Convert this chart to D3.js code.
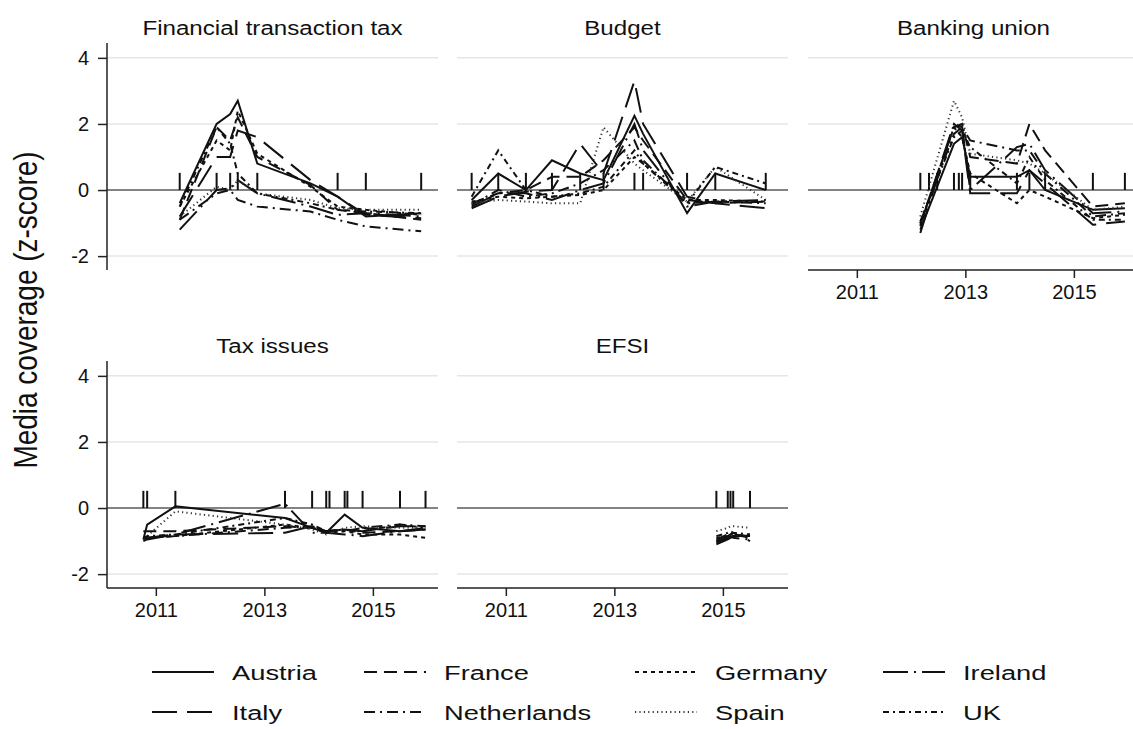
<!DOCTYPE html>
<html><head><meta charset="utf-8">
<script src="https://cdn.jsdelivr.net/npm/d3@7/dist/d3.min.js"></script>
<style>html,body{margin:0;padding:0;background:#fff}svg{display:block}</style>
</head><body><svg id="c" width="1133" height="729"></svg>
<script>
// ---------------- DATA ----------------
const countries = ["Austria","France","Germany","Ireland","Italy","Netherlands","Spain","UK"];
const panelTitles = ["Financial transaction tax","Budget","Banking union","Tax issues","EFSI"];
const yTicks = [-2, 0, 2, 4];
const xTicks = [2011, 2013, 2015];

// Financial transaction tax
const fttDates  = [2011.44, 2012.12, 2012.37, 2012.51, 2012.87, 2013.85, 2014.35, 2014.87, 2015.89];
const fttEvents = [2011.44, 2012.12, 2012.37, 2012.51, 2012.87, 2014.35, 2014.87, 2015.89];
const fttValues = [
  [-0.4, 2.0, 2.3, 2.7, 0.8, 0.2, -0.2, -0.8, -0.7],
  [-0.9, 1.9, 1.5, 2.2, 1.0, 0.15, -0.6, -0.7, -0.9],
  [-0.5, 1.5, 1.2, 2.4, 1.1, 0.1, -0.5, -0.6, -0.75],
  [-1.2, 0.0, 0.05, 0.3, -0.1, -0.5, -0.75, -0.7, -0.8],
  [-0.8, 1.0, 1.0, 1.8, 1.6, 0.3, -0.2, -0.75, -0.85],
  [-0.9, -0.1, 0.0, -0.3, -0.5, -0.65, -0.9, -1.1, -1.25],
  [-0.8, 0.1, 0.0, 0.3, -0.1, -0.3, -0.55, -0.6, -0.6],
  [-0.5, 1.9, 1.4, 0.5, -0.1, -0.4, -0.6, -0.65, -0.7]
];

// Budget
const budDates  = [2010.37, 2010.86, 2011.37, 2011.85, 2012.37, 2012.80, 2013.37, 2013.53, 2014.34, 2014.86, 2015.79];
const budEvents = budDates;
const budValues = [
  [-0.3, 0.5, 0.0, 0.9, 0.5, 0.3, 2.25, 1.7, -0.7, 0.5, 0.0],
  [-0.4, -0.1, 0.0, 0.4, 0.4, 0.9, 1.9, 1.5, -0.3, -0.4, -0.35],
  [-0.35, -0.2, -0.25, -0.2, -0.15, 0.0, 1.0, 0.8, -0.3, -0.3, -0.35],
  [-0.5, -0.1, -0.1, -0.3, 0.0, 0.2, 2.0, 1.2, -0.5, -0.35, -0.3],
  [-0.55, -0.2, -0.05, 0.0, 1.4, 0.5, 3.3, 2.0, -0.2, -0.4, -0.55],
  [-0.45, 0.0, -0.2, -0.1, 0.2, 0.6, 1.5, 0.9, -0.4, -0.35, -0.4],
  [-0.4, -0.3, -0.35, -0.4, -0.4, 1.9, 0.8, 0.6, -0.35, 0.7, -0.3],
  [-0.2, 1.2, 0.0, -0.2, -0.1, 0.1, 1.2, 0.8, -0.4, 0.7, 0.2]
];

// Banking union
const bankDates  = [2012.17, 2012.79, 2012.94, 2013.09, 2013.95, 2014.18, 2014.47, 2015.35, 2015.94];
const bankEvents = [2012.17, 2012.33, 2012.48, 2012.79, 2012.88, 2012.94, 2013.09, 2013.95, 2014.18, 2014.47, 2015.35, 2015.94];
const bankValues = [
  [-1.2, 1.4, 1.6, 0.4, 0.4, 0.6, 0.0, -0.6, -0.55],
  [-1.0, 1.9, 2.0, 1.0, 0.8, 2.0, 1.2, -0.5, -0.4],
  [-1.1, 1.9, 1.6, 0.5, -0.4, 0.0, -0.2, -0.85, -0.75],
  [-1.3, 2.0, 1.9, 0.0, 1.3, 1.4, 0.6, -0.7, -0.65],
  [-1.05, 2.0, 1.8, -0.1, -0.1, 0.6, 0.2, -1.05, -0.95],
  [-1.0, 1.7, 1.9, 1.5, 1.2, 1.2, 0.5, -0.8, -0.7],
  [-0.8, 2.7, 2.2, 1.1, 0.9, 0.8, 0.5, -0.6, -0.5],
  [-0.95, 1.6, 1.8, 1.3, 0.2, 1.0, 0.3, -0.9, -0.9]
];

// Tax issues
const taxDates  = [2010.77, 2010.84, 2011.36, 2013.38, 2013.88, 2014.14, 2014.48, 2014.81, 2015.50, 2015.97];
const taxEvents = [2010.77, 2010.84, 2011.36, 2013.38, 2013.88, 2014.14, 2014.20, 2014.48, 2014.53, 2014.81, 2015.50, 2015.97];
const taxValues = [
  [-0.95, -0.5, 0.05, -0.3, -0.6, -0.75, -0.2, -0.6, -0.7, -0.65],
  [-0.7, -0.7, -0.7, -0.55, -0.6, -0.7, -0.65, -0.75, -0.7, -0.65],
  [-0.9, -0.9, -0.85, -0.5, -0.6, -0.75, -0.7, -0.8, -0.8, -0.9],
  [-1.0, -0.95, -0.8, 0.13, -0.75, -0.75, -0.8, -0.85, -0.7, -0.6],
  [-0.9, -0.9, -0.8, -0.75, -0.55, -0.7, -0.65, -0.7, -0.55, -0.55],
  [-0.95, -0.9, -0.85, -0.6, -0.55, -0.7, -0.7, -0.6, -0.5, -0.55],
  [-0.9, -0.85, -0.1, -0.5, -0.65, -0.8, -0.6, -0.55, -0.6, -0.6],
  [-0.9, -0.85, -0.8, -0.3, -0.5, -0.7, -0.65, -0.7, -0.5, -0.6]
];

// EFSI
const efsiDates  = [2014.88, 2015.09, 2015.14, 2015.19, 2015.50];
const efsiEvents = efsiDates;
const efsiValues = [
  [-1.1, -0.95, -0.9, -0.85, -0.85],
  [-1.0, -0.9, -0.85, -0.8, -0.9],
  [-0.9, -0.85, -0.8, -0.85, -0.8],
  [-1.05, -0.9, -0.85, -0.9, -0.95],
  [-1.0, -0.85, -0.8, -0.75, -1.0],
  [-0.95, -0.8, -0.75, -0.8, -0.85],
  [-0.7, -0.6, -0.55, -0.55, -0.6],
  [-0.85, -0.75, -0.7, -0.75, -0.8]
];

// ---------------- LAYOUT / STYLE ----------------
const dashes = ["none","13,7","4,4","25,6,2,6","25,10","11,5,2,5","1.2,3.2","6,4,2,4"];
const FONT = "'Liberation Sans', Arial, Helvetica, sans-serif";
const panels = [
  {title: panelTitles[0], dates: fttDates,  events: fttEvents,  values: fttValues,  col: 0, row: 0, yAxis: true,  xAxis: false},
  {title: panelTitles[1], dates: budDates,  events: budEvents,  values: budValues,  col: 1, row: 0, yAxis: false, xAxis: false},
  {title: panelTitles[2], dates: bankDates, events: bankEvents, values: bankValues, col: 2, row: 0, yAxis: false, xAxis: true},
  {title: panelTitles[3], dates: taxDates,  events: taxEvents,  values: taxValues,  col: 0, row: 1, yAxis: true,  xAxis: true},
  {title: panelTitles[4], dates: efsiDates, events: efsiEvents, values: efsiValues, col: 1, row: 1, yAxis: false, xAxis: true}
];
const colX = [107, 457, 808];
const rowY = [43, 361];
const pw = 331, ph = 227;

const svg = d3.select("#c");

panels.forEach(p => {
  const x0 = colX[p.col], y0 = rowY[p.row];
  const x = d3.scaleLinear().domain([2010.1, 2016.2]).range([x0, x0 + pw]);
  const y = d3.scaleLinear().domain([-2.42, 4.45]).range([y0 + ph, y0]);
  const g = svg.append("g");

  // gridlines
  g.selectAll("line.grid").data(yTicks.filter(t => t !== 0)).join("line")
    .attr("x1", x0).attr("x2", x0 + pw)
    .attr("y1", d => y(d)).attr("y2", d => y(d))
    .attr("stroke", "#e6e6e6").attr("stroke-width", 1.5);
  // zero line
  g.append("line").attr("x1", x0).attr("x2", x0 + pw)
    .attr("y1", y(0)).attr("y2", y(0))
    .attr("stroke", "#5a5a5a").attr("stroke-width", 1.6);

  // event spikes
  g.selectAll("line.spike").data(p.events).join("line")
    .attr("x1", d => x(d)).attr("x2", d => x(d))
    .attr("y1", y(0)).attr("y2", y(0.52))
    .attr("stroke", "#111").attr("stroke-width", 2);

  // country lines
  const line = d3.line().x((d, i) => x(p.dates[i])).y(d => y(d));
  p.values.forEach((vals, ci) => {
    g.append("path").datum(vals)
      .attr("d", line)
      .attr("fill", "none")
      .attr("stroke", ci === 6 ? "#333" : "#111")
      .attr("stroke-width", 2)
      .attr("stroke-dasharray", dashes[ci]);
  });

  // title
  g.append("text")
    .attr("transform", `translate(${x0 + pw / 2},${y0 - 8}) scale(1.15,1)`)
    .attr("text-anchor", "middle")
    .attr("font-family", FONT).attr("font-size", 21).attr("fill", "#111")
    .text(p.title);

  if (p.yAxis) {
    const ya = d3.axisLeft(y).tickValues(yTicks).tickFormat(d => String(d)).tickSize(9).tickPadding(9);
    const ag = svg.append("g").attr("transform", `translate(${x0},0)`).call(ya);
    ag.select(".domain").attr("stroke", "#222").attr("stroke-width", 1.5).attr("d", `M0,${y0}V${y0 + ph}`);
    ag.selectAll(".tick line").attr("stroke", "#222").attr("stroke-width", 1.5);
    ag.selectAll(".tick text").attr("font-family", FONT).attr("font-size", 20).attr("fill", "#111");
  }
  if (p.xAxis) {
    const xa = d3.axisBottom(x).tickValues(xTicks).tickFormat(d => String(d)).tickSize(8).tickPadding(7);
    const ag = svg.append("g").attr("transform", `translate(0,${y0 + ph})`).call(xa);
    ag.select(".domain").attr("stroke", "#222").attr("stroke-width", 1.5).attr("d", `M${x0},0H${x0 + pw}`);
    ag.selectAll(".tick line").attr("stroke", "#222").attr("stroke-width", 1.5);
    ag.selectAll(".tick text").attr("font-family", FONT).attr("font-size", 20).attr("fill", "#111");
  }
});

// y-axis title
svg.append("text")
  .attr("transform", "translate(37,310) scale(1.2,1) rotate(-90)")
  .attr("text-anchor", "middle")
  .attr("font-family", FONT).attr("font-size", 28).attr("fill", "#111")
  .text("Media coverage (z-score)");

// legend
const legCols = [152, 364, 635, 883];
const legRows = [672, 712];
countries.forEach((c, i) => {
  const lx = legCols[i % 4], ly = legRows[Math.floor(i / 4)];
  svg.append("line").attr("x1", lx).attr("x2", lx + 62).attr("y1", ly).attr("y2", ly)
    .attr("stroke", i === 6 ? "#333" : "#111").attr("stroke-width", 2)
    .attr("stroke-dasharray", dashes[i]);
  svg.append("text")
    .attr("transform", `translate(${lx + 80},${ly + 8}) scale(1.3,1)`)
    .attr("font-family", FONT).attr("font-size", 21).attr("fill", "#111")
    .text(c);
});
</script></body></html>
